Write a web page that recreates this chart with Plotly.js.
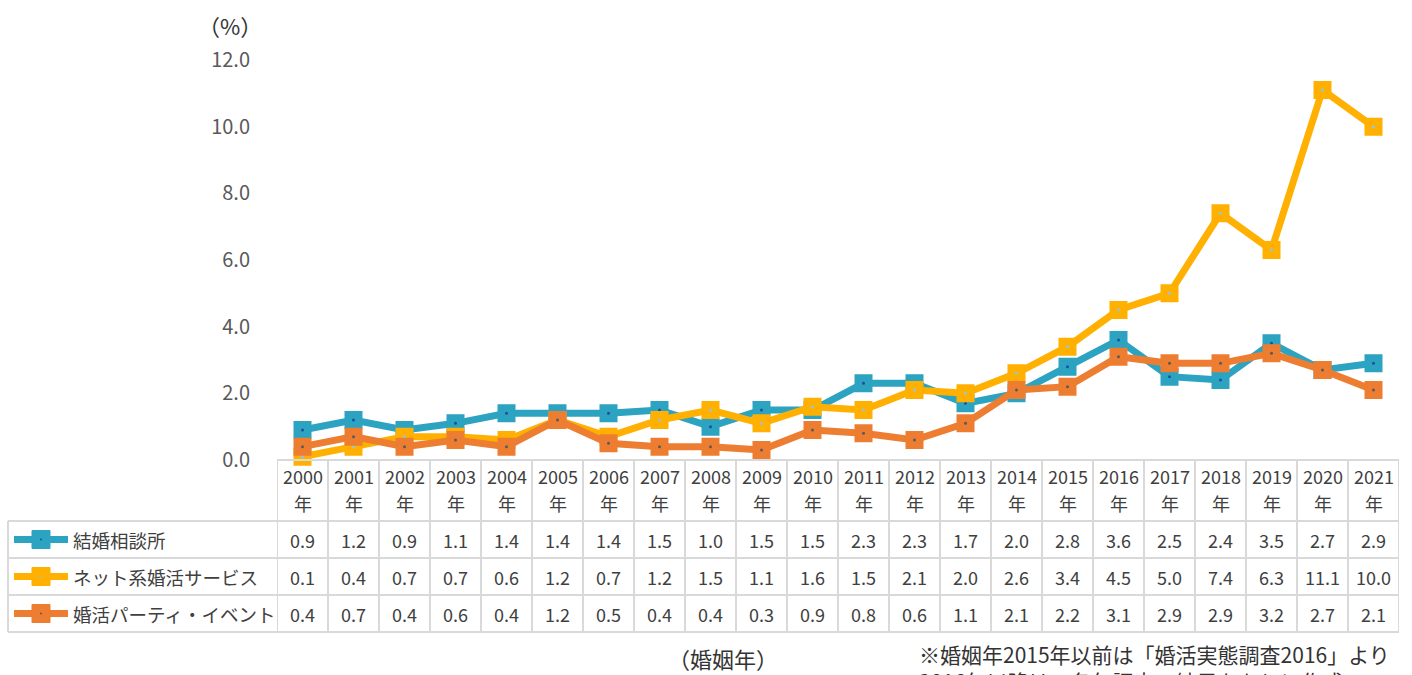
<!DOCTYPE html>
<html><head><meta charset="utf-8">
<script src="https://cdn.plot.ly/plotly-3.0.1.min.js"></script>
<style>html,body{margin:0;padding:0;background:#fff;}#c{width:1412px;height:675px;}</style>
</head><body><div id="c"></div>
<script>
const years = ["2000","2001","2002","2003","2004","2005","2006","2007","2008","2009","2010","2011","2012","2013","2014","2015","2016","2017","2018","2019","2020","2021"];
const yearSuffix = "年";
const seriesNames = ["結婚相談所","ネット系婚活サービス","婚活パーティ・イベント"];
const soudansho = [0.9,1.2,0.9,1.1,1.4,1.4,1.4,1.5,1.0,1.5,1.5,2.3,2.3,1.7,2.0,2.8,3.6,2.5,2.4,3.5,2.7,2.9];
const netService = [0.1,0.4,0.7,0.7,0.6,1.2,0.7,1.2,1.5,1.1,1.6,1.5,2.1,2.0,2.6,3.4,4.5,5.0,7.4,6.3,11.1,10.0];
const party = [0.4,0.7,0.4,0.6,0.4,1.2,0.5,0.4,0.4,0.3,0.9,0.8,0.6,1.1,2.1,2.2,3.1,2.9,2.9,3.2,2.7,2.1];
const yTicks = [0,2,4,6,8,10,12];
const unitLabel = "（%）";
const xTitle = "（婚姻年）";
const note = "※婚姻年2015年以前は「婚活実態調査2016」より<br>2016年以降は、各年調査の結果をもとに作成";

const seriesValues = [soudansho, netService, party];
const colors = ["#2CA3C1","#FFB000","#ED7D31"];
const dotColors = ["#1f4e9e","#8fc7e8","#5a5a5a"];
const FONT = "Noto Sans CJK JP";
const xs = years.map((_, i) => i);

const traces = [];
seriesValues.forEach((vals, s) => {
  traces.push({
    x: xs, y: vals, type: 'scatter', mode: 'lines+markers', name: seriesNames[s],
    line: {color: colors[s], width: 7},
    marker: {symbol: 'square', size: 15, color: colors[s], line: {color: colors[s], width: 3}},
    cliponaxis: false, hoverinfo: 'skip'
  });
  traces.push({
    x: xs, y: vals, type: 'scatter', mode: 'markers', showlegend: false,
    marker: {symbol: 'circle', size: 3, color: dotColors[s]},
    cliponaxis: false, hoverinfo: 'skip'
  });
});

// pixel -> paper helpers (plot area: x 277..1399, y 60..460)
const L = 277, R = 1399, T = 60, B = 460;
const px = p => (p - L) / (R - L);
const py = p => (B - p) / (B - T);

const gridColor = "#d9d9d9";
const shapes = [];
const rowLines = [460, 521, 558, 595, 632];
rowLines.forEach((p, k) => {
  shapes.push({type: 'line', xref: k === 0 ? 'x' : 'paper', yref: 'paper',
    x0: k === 0 ? -0.5 : px(8), x1: k === 0 ? years.length - 0.5 : 1,
    y0: py(p), y1: py(p), line: {color: gridColor, width: 2}});
});
for (let k = 0; k <= years.length; k++) {
  shapes.push({type: 'line', xref: 'x', yref: 'paper', x0: k - 0.5, x1: k - 0.5,
    y0: py(460), y1: py(632), line: {color: gridColor, width: 2}});
}
shapes.push({type: 'line', xref: 'paper', yref: 'paper', x0: px(8), x1: px(8),
  y0: py(521), y1: py(632), line: {color: gridColor, width: 2}});

const rowCenters = [539.5, 576.5, 613.5];
const annotations = [];
seriesNames.forEach((n, s) => {
  const c = rowCenters[s];
  shapes.push({type: 'line', xref: 'paper', yref: 'paper', x0: px(14), x1: px(68),
    y0: py(c), y1: py(c), line: {color: colors[s], width: 7}});
  shapes.push({type: 'rect', xref: 'paper', yref: 'paper', x0: px(32), x1: px(50),
    y0: py(c - 9), y1: py(c + 9), fillcolor: colors[s], line: {color: colors[s], width: 1}});
  shapes.push({type: 'circle', xref: 'paper', yref: 'paper', x0: px(40), x1: px(42),
    y0: py(c - 1), y1: py(c + 1), fillcolor: dotColors[s], line: {width: 0}});
  annotations.push({xref: 'paper', yref: 'paper', x: px(71), y: py(c), xanchor: 'left', yanchor: 'middle',
    text: n, showarrow: false, font: {family: FONT, size: 18.5, color: '#404040'}});
  seriesValues[s].forEach((v, i) => {
    annotations.push({xref: 'x', yref: 'paper', x: i, y: py(c), xanchor: 'center', yanchor: 'middle',
      text: v.toFixed(1), showarrow: false, font: {family: FONT, size: 18, color: '#404040'}});
  });
});
years.forEach((y, i) => {
  annotations.push({xref: 'x', yref: 'paper', x: i, y: py(476), xanchor: 'center', yanchor: 'middle',
    text: y, showarrow: false, font: {family: FONT, size: 18, color: '#404040'}});
  annotations.push({xref: 'x', yref: 'paper', x: i, y: py(503), xanchor: 'center', yanchor: 'middle',
    text: yearSuffix, showarrow: false, font: {family: FONT, size: 18, color: '#404040'}});
});
annotations.push({xref: 'paper', yref: 'paper', x: px(230), y: py(25), xanchor: 'center', yanchor: 'middle',
  text: unitLabel, showarrow: false, font: {family: FONT, size: 22, color: '#333333'}});
annotations.push({xref: 'paper', yref: 'paper', x: px(723), y: py(658), xanchor: 'center', yanchor: 'middle',
  text: xTitle, showarrow: false, font: {family: FONT, size: 22, color: '#333333'}});
annotations.push({xref: 'paper', yref: 'paper', x: px(917), y: py(637), xanchor: 'left', yanchor: 'top',
  text: note, align: 'left', showarrow: false, font: {family: FONT, size: 21, color: '#333333'}});

const layout = {
  width: 1412, height: 675,
  margin: {l: L, r: 1412 - R, t: T, b: 675 - B},
  paper_bgcolor: '#ffffff', plot_bgcolor: '#ffffff',
  showlegend: false,
  xaxis: {range: [-0.5, years.length - 0.5], showgrid: false, zeroline: false, showline: false,
    showticklabels: false, ticks: '', fixedrange: true},
  yaxis: {range: [0, 12], tickvals: yTicks, ticktext: yTicks.map(v => v.toFixed(1)),
    showgrid: false, zeroline: false, showline: false, ticks: '', ticklabelstandoff: 26,
    tickfont: {family: FONT, size: 20, color: '#595959'}, fixedrange: true},
  shapes: shapes, annotations: annotations
};
Plotly.newPlot('c', traces, layout, {displayModeBar: false, staticPlot: true});
</script></body></html>
